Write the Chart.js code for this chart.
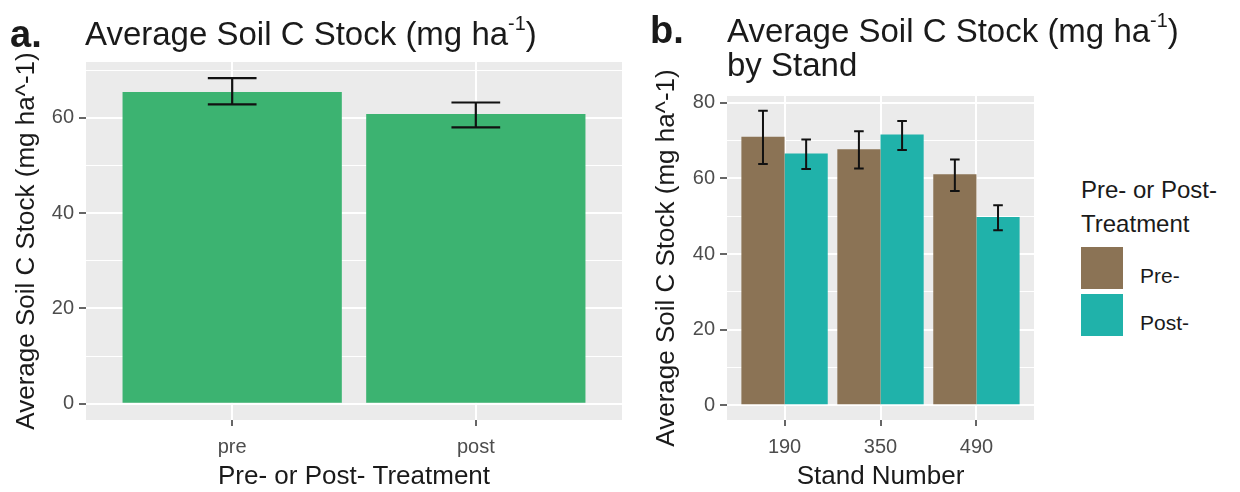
<!DOCTYPE html>
<html>
<head>
<meta charset="utf-8">
<script src="https://cdn.jsdelivr.net/npm/chart.js@4.4.1/dist/chart.umd.min.js"></script>
<style>
  body { margin: 0; width: 1240px; height: 492px; background: #fff; position: relative; overflow: hidden;
         font-family: "Liberation Sans", Arial, sans-serif; color: #1a1a1a; }
  .box { position: absolute; top: 0; }
  .lbl { position: absolute; white-space: nowrap; z-index: 2; }
  sup { font-size: 0.6em; vertical-align: 0.75em; line-height: 0; }
  .key { position: absolute; width: 42px; height: 42px; }
</style>
</head>
<body>
<div class="lbl" style="left:10px; top:15px; font-size:38px; line-height:38px; font-weight:bold;">a.</div>
<div class="lbl" style="left:85px; top:17px; font-size:33px; line-height:33px;">Average Soil C Stock (mg ha<sup>-1</sup>)</div>
<div class="lbl" style="left:650px; top:11px; font-size:38px; line-height:38px; font-weight:bold;">b.</div>
<div class="lbl" style="left:727px; top:14px; font-size:33px; line-height:34px;">Average Soil C Stock (mg ha<sup>-1</sup>)<br>by Stand</div>
<div class="lbl" style="left:1081px; top:173px; font-size:24px; line-height:34px;">Pre- or Post-<br>Treatment</div>
<div id="legend"></div>

<div class="box" style="left:0;"><canvas id="chartA" width="630" height="492"></canvas></div>
<div class="box" style="left:640px;"><canvas id="chartB" width="420" height="492"></canvas></div>

<script>
// panel a: overall means
var treatments = ['pre', 'post'];
var meanA = [65.4, 60.8];
var lowA = [62.8, 58.0];
var highA = [68.3, 63.2];

// panel b: by stand
var stands = ['190', '350', '490'];
var preMean = [71.0, 67.7, 61.1];
var preLow = [63.8, 62.6, 56.7];
var preHigh = [77.9, 72.5, 65.0];
var postMean = [66.6, 71.6, 49.8];
var postLow = [62.5, 67.5, 46.3];
var postHigh = [70.3, 75.2, 52.9];

var yLabelStep = 20;   // labelled ticks
var yMinorStep = 10;   // minor grid lines

var FONT = 'Liberation Sans, Arial, sans-serif';
var TICK_COLOR = '#4D4D4D';
var TEXT_COLOR = '#1a1a1a';

// grey ggplot-style panel behind the grid
var panelBg = {
    id: 'panelBg',
    beforeDraw: function (chart) {
        var a = chart.chartArea, ctx = chart.ctx;
        ctx.save();
        ctx.fillStyle = '#EBEBEB';
        ctx.fillRect(a.left, a.top, a.right - a.left, a.bottom - a.top);
        ctx.restore();
    }
};

// error bars from errLow / errHigh on each dataset
var errorBars = {
    id: 'errorBars',
    afterDatasetsDraw: function (chart, args, opts) {
        var ctx = chart.ctx, y = chart.scales.y;
        chart.data.datasets.forEach(function (ds, di) {
            var meta = chart.getDatasetMeta(di);
            meta.data.forEach(function (bar, i) {
                var top = y.getPixelForValue(ds.errHigh[i]);
                var bot = y.getPixelForValue(ds.errLow[i]);
                var half = bar.width * opts.cap / 2;
                ctx.save();
                ctx.strokeStyle = '#111';
                ctx.lineWidth = opts.width;
                ctx.beginPath();
                ctx.moveTo(bar.x - half, top); ctx.lineTo(bar.x + half, top);
                ctx.moveTo(bar.x, top); ctx.lineTo(bar.x, bot);
                ctx.moveTo(bar.x - half, bot); ctx.lineTo(bar.x + half, bot);
                ctx.stroke();
                ctx.restore();
            });
        });
    }
};

function xScale(labels, title, height) {
    return {
        type: 'linear',
        min: -0.6,
        max: labels.length - 0.4,
        offset: false,
        afterFit: function (s) { s.height = height; },
        ticks: {
            stepSize: 1, autoSkip: false, includeBounds: false, maxRotation: 0, padding: 9,
            color: TICK_COLOR, font: { family: FONT, size: 20 },
            callback: function (v) { return labels[v]; }
        },
        grid: { offset: false, color: '#FFFFFF', lineWidth: 2, tickColor: '#333333', tickLength: 6, tickWidth: 1.5 },
        border: { display: false },
        title: { display: true, text: title, color: TEXT_COLOR, font: { family: FONT, size: 26 }, padding: { top: 0, bottom: 0 } }
    };
}

function yScale(min, max, width) {
    return {
        min: min,
        max: max,
        afterFit: function (s) { s.width = width; },
        ticks: {
            stepSize: yMinorStep, autoSkip: false, includeBounds: false, padding: 5,
            color: TICK_COLOR, font: { family: FONT, size: 20 },
            callback: function (v) { return v % yLabelStep === 0 ? v : ''; }
        },
        grid: {
            color: '#FFFFFF',
            lineWidth: function (c) { return c.tick && c.tick.value % yLabelStep === 0 ? 2 : 1; },
            tickColor: function (c) { return c.tick && c.tick.value % yLabelStep === 0 ? '#333333' : 'rgba(0,0,0,0)'; },
            tickLength: 7, tickWidth: 1.5
        },
        border: { display: false },
        title: { display: true, text: 'Average Soil C Stock (mg ha^-1)', color: TEXT_COLOR, font: { family: FONT, size: 26 }, padding: { top: 11 } }
    };
}

var baseOptions = function (padding, xs, ys, errWidth) {
    return {
        responsive: false,
        animation: false,
        layout: { padding: padding },
        plugins: {
            legend: { display: false },
            tooltip: { enabled: false },
            errorBars: { cap: 0.2 / 0.9, width: errWidth }
        },
        scales: { x: xs, y: ys }
    };
};

var chartA = new Chart(document.getElementById('chartA').getContext('2d'), {
    type: 'bar',
    data: {
        datasets: [{
            label: 'Average',
            data: treatments.map(function (t, i) { return { x: i, y: meanA[i] }; }),
            backgroundColor: '#3CB371',
            categoryPercentage: 0.9,
            barPercentage: 1.0,
            errLow: lowA,
            errHigh: highA
        }]
    },
    options: baseOptions({ left: 0, top: 62, right: 8, bottom: 0 },
        xScale(treatments, 'Pre- or Post- Treatment', 72),
        yScale(-3.4, 71.7, 86), 2.2),
    plugins: [panelBg, errorBars]
});

var chartB = new Chart(document.getElementById('chartB').getContext('2d'), {
    type: 'bar',
    data: {
        datasets: [{
            label: 'Pre-',
            data: stands.map(function (s, i) { return { x: i, y: preMean[i] }; }),
            backgroundColor: '#8B7355',
            categoryPercentage: 0.9,
            barPercentage: 1.0,
            errLow: preLow,
            errHigh: preHigh
        }, {
            label: 'Post-',
            data: stands.map(function (s, i) { return { x: i, y: postMean[i] }; }),
            backgroundColor: '#20B2AA',
            categoryPercentage: 0.9,
            barPercentage: 1.0,
            errLow: postLow,
            errHigh: postHigh
        }]
    },
    options: baseOptions({ left: 0, top: 96, right: 26, bottom: 0 },
        xScale(stands, 'Stand Number', 72),
        yScale(-3.9, 81.8, 87), 2),
    plugins: [panelBg, errorBars]
});

// legend built from the datasets of panel b
var legend = document.getElementById('legend');
var keyTops = [247, 294];
chartB.data.datasets.forEach(function (ds, i) {
    var key = document.createElement('div');
    key.className = 'key';
    key.style.left = '1081px';
    key.style.top = keyTops[i] + 'px';
    key.style.background = ds.backgroundColor;
    legend.appendChild(key);
    var txt = document.createElement('div');
    txt.className = 'lbl';
    txt.style.left = '1140px';
    txt.style.top = (keyTops[i] + 18) + 'px';
    txt.style.fontSize = '21px';
    txt.style.lineHeight = '21px';
    txt.textContent = ds.label;
    legend.appendChild(txt);
});
</script>
</body>
</html>
